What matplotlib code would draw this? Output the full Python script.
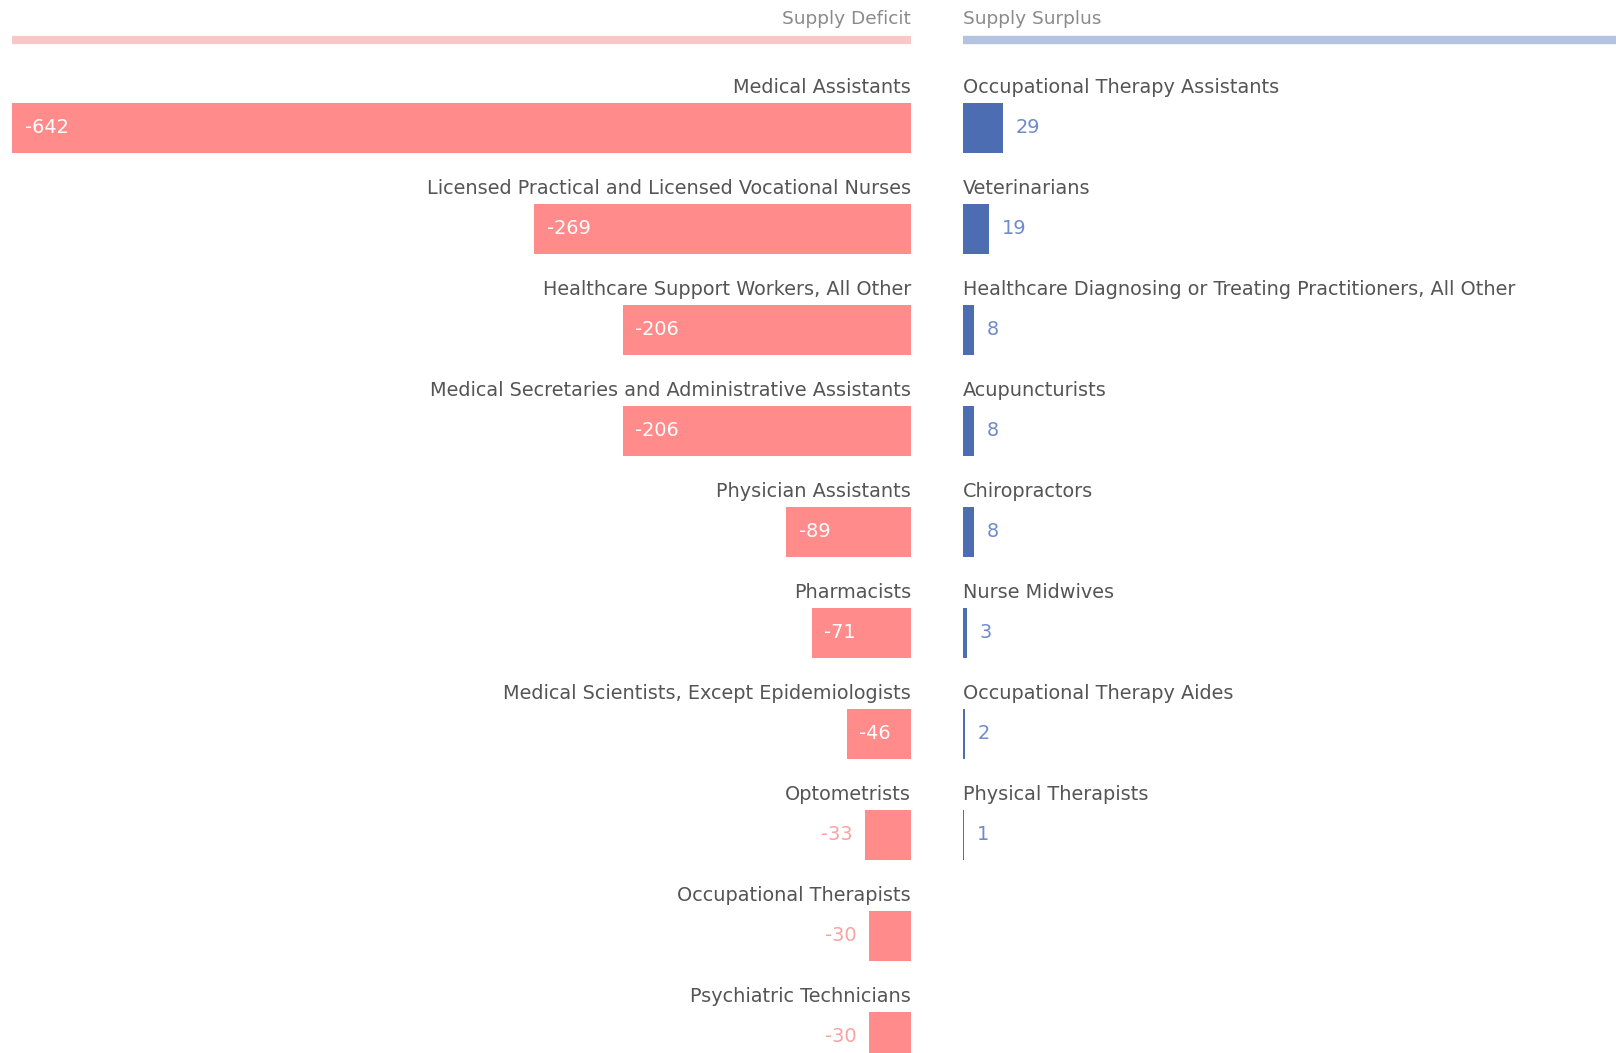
import matplotlib
matplotlib.use("Agg")
import matplotlib.pyplot as plt

deficit_labels = ["Medical Assistants",
                  "Licensed Practical and Licensed Vocational Nurses",
                  "Healthcare Support Workers, All Other",
                  "Medical Secretaries and Administrative Assistants",
                  "Physician Assistants",
                  "Pharmacists",
                  "Medical Scientists, Except Epidemiologists",
                  "Optometrists",
                  "Occupational Therapists",
                  "Psychiatric Technicians"]
deficit_values = [-642, -269, -206, -206, -89, -71, -46, -33, -30, -30]

surplus_labels = ["Occupational Therapy Assistants",
                  "Veterinarians",
                  "Healthcare Diagnosing or Treating Practitioners, All Other",
                  "Acupuncturists",
                  "Chiropractors",
                  "Nurse Midwives",
                  "Occupational Therapy Aides",
                  "Physical Therapists"]
surplus_values = [29, 19, 8, 8, 8, 3, 2, 1]

W, H = 1616, 1053
DPI = 100
PXU = 1.40           # pixels per unit
ROW = 101.0          # pixels per row
Y0 = 127.8           # pixel y of first bar centre
LEFT_ZERO = 911.0
RIGHT_ZERO = 962.6

RED = "#ff8b8b"
RED_LIGHT = "#fac7c7"
BLUE = "#4d6db3"
BLUE_LIGHT = "#b3c3e0"
LABEL_C = "#555555"
HEAD_C = "#8a8a8a"
FONT = "DejaVu Sans"
FS = 13.9
FS_HEAD = 13.3

fig = plt.figure(figsize=(W / DPI, H / DPI), dpi=DPI)
fig.patch.set_facecolor("white")

ylim = ((H - Y0) / ROW, -Y0 / ROW)
axL = fig.add_axes([0, 0, LEFT_ZERO / W, 1])
axR = fig.add_axes([RIGHT_ZERO / W, 0, (W - RIGHT_ZERO) / W, 1])
axL.set_xlim(-LEFT_ZERO / PXU, 0)
axR.set_xlim(0, (W - RIGHT_ZERO) / PXU)
for ax in (axL, axR):
    ax.set_ylim(*ylim)
    ax.axis("off")

bar_h = 49.5 / ROW
lab_dy = -40.5 / ROW
head_line_y = (40.2 - Y0) / ROW
head_text_y = (19.5 - Y0) / ROW

# headers
axL.plot([deficit_values[0], 0], [head_line_y] * 2, color=RED_LIGHT, lw=6,
         solid_capstyle="butt", clip_on=False)
axR.plot([0, (W - RIGHT_ZERO) / PXU], [head_line_y] * 2, color=BLUE_LIGHT, lw=6,
         solid_capstyle="butt", clip_on=False)
axL.text(0, head_text_y, "Supply Deficit", ha="right", va="center",
         color=HEAD_C, fontsize=FS_HEAD, family=FONT)
axR.text(0, head_text_y, "Supply Surplus", ha="left", va="center",
         color=HEAD_C, fontsize=FS_HEAD, family=FONT)

rows_d = list(range(len(deficit_values)))
axL.barh(rows_d, deficit_values, height=bar_h, color=RED, align="center")
for i, (lab, v) in enumerate(zip(deficit_labels, deficit_values)):
    axL.text(0, i + lab_dy, lab, ha="right", va="center", color=LABEL_C,
             fontsize=FS, family=FONT)
    if abs(v) * PXU > 55:
        axL.annotate(str(v), (v, i), xytext=(9, 0), textcoords="offset points",
                     ha="left", va="center", color="white", fontsize=FS, family=FONT)
    else:
        axL.annotate(str(v), (v, i), xytext=(-9, 0), textcoords="offset points",
                     ha="right", va="center", color="#f7a3a3", fontsize=FS, family=FONT)

rows_s = list(range(len(surplus_values)))
axR.barh(rows_s, surplus_values, height=bar_h, color=BLUE, align="center")
for i, (lab, v) in enumerate(zip(surplus_labels, surplus_values)):
    axR.text(0, i + lab_dy, lab, ha="left", va="center", color=LABEL_C,
             fontsize=FS, family=FONT)
    axR.annotate(str(v), (v, i), xytext=(9, 0), textcoords="offset points",
                 ha="left", va="center", color="#6f8bc9", fontsize=FS, family=FONT)

fig.savefig("out.png", dpi=DPI, facecolor="white")
